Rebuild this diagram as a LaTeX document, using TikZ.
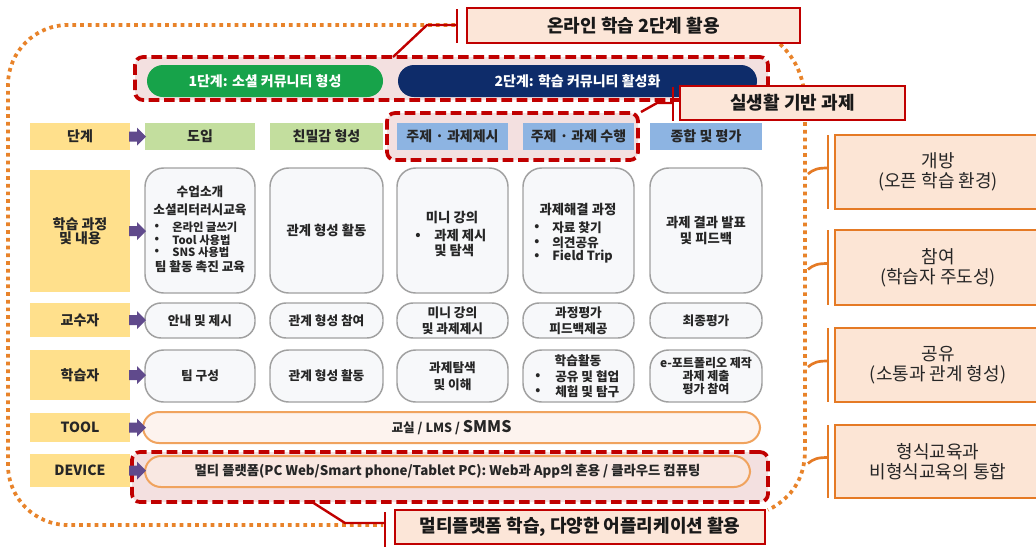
\documentclass[tikz,border=0pt]{standalone}
\usepackage{fontspec}
\setmainfont{Noto Sans CJK KR}
\usetikzlibrary{calc}
\definecolor{lblY}{HTML}{FFE08C}
\definecolor{hdrG}{HTML}{C3DE9E}
\definecolor{hdrB}{HTML}{8DB4E2}
\definecolor{pillG}{HTML}{17A34A}
\definecolor{pillN}{HTML}{0E2C6A}
\definecolor{pinkF}{HTML}{F3E0E0}
\definecolor{calF}{HTML}{FCE6D8}
\definecolor{redD}{HTML}{C00000}
\definecolor{orgD}{HTML}{E57A25}
\definecolor{orgF}{HTML}{FCE5D5}
\definecolor{dotO}{HTML}{E8832A}
\definecolor{toolD}{HTML}{F0A35E}
\definecolor{toolF}{HTML}{FDF3EE}
\definecolor{devF}{HTML}{F9E8E2}
\definecolor{cellF}{HTML}{F7F8FA}
\definecolor{cellD}{HTML}{A0A0A0}
\definecolor{purp}{HTML}{604A8C}
\definecolor{txtD}{HTML}{262626}
\newcommand\myfs[2]{\fontsize{#1}{#2}\selectfont}
\tikzset{cover/.code args={#1/#2/#3/#4}{%
  \pgfmathsetmacro\cvw{0.75*((#3)-(#1))}%
  \pgfmathsetmacro\cvh{0.75*((#4)-(#2))}%
  \pgfmathsetmacro\cvx{((#1)+(#3))/2}%
  \pgfmathsetmacro\cvy{((#2)+(#4))/2}%
  \edef\cvtmp{\noexpand\pgfkeysalso{minimum width=\cvw pt,minimum height=\cvh pt,at={(\cvx,\cvy)}}}%
  \cvtmp}}
\begin{document}
\begin{tikzpicture}[x=0.75pt,y=-0.75pt,
 box/.style={inner sep=0pt,outer sep=0pt,align=center,text=txtD},
 lbl/.style={box,fill=lblY,font=\bfseries\myfs{10.5}{10.5}},
 hdrg/.style={box,fill=hdrG,font=\bfseries\myfs{10.5}{12}},
 hdrb/.style={box,fill=hdrB,font=\bfseries\myfs{10.5}{12}},
 cell/.style={box,draw=cellD,line width=1.1pt,fill=cellF,rounded corners=14pt,font=\bfseries\myfs{10}{12}},
 pillc/.style={box,draw=cellD,line width=1.1pt,fill=cellF,rounded corners=12pt,font=\bfseries\myfs{9.5}{12}},
 txt/.style={inner sep=0pt,text=txtD,font=\bfseries\myfs{10}{12}},
 mtxt/.style={inner sep=0pt,text=txtD,font=\bfseries\myfs{9.5}{11}},
 stxt/.style={inner sep=0pt,text=txtD,font=\bfseries\myfs{9.5}{11}},
 btxt/.style={inner sep=0pt,text=txtD,font=\bfseries\myfs{8.5}{10}},
 dashbox/.style={inner sep=0pt,draw=redD,line width=2.8pt,dash pattern=on 8pt off 3.5pt,fill=pinkF,rounded corners=6pt},
 callout/.style={box,draw=redD,line width=2pt,fill=calF,font=\bfseries\myfs{13.5}{15},text=black!90},
 rbox/.style={box,draw=orgD,line width=2pt,fill=orgF,font=\myfs{13.5}{15},text=black!85},
 redline/.style={draw=redD,line width=1.8pt},
 dotline/.style={draw=dotO,line width=2.8pt,dash pattern=on 2.8pt off 3pt},
 bracket/.style={draw=orgD,line width=2pt},
 stage/.style={box,rounded corners=12pt,text=white,font=\bfseries\myfs{10.5}{12}},
 widebox/.style={box,draw=toolD,line width=1.5pt,rounded corners=12pt}
]
\useasboundingbox (0,0) rectangle (1036,547);
\clip (0,0) rectangle (1036,547);
\fill[white] (0,0) rectangle (1036,547);

% orange dotted outline
\coordinate (dA) at (455,25);
\coordinate (dB) at (383,525);
\draw[dotline, rounded corners=45pt] (dA) -- (8,25) -- (8,525) -- (dB);
\coordinate (dC) at (780,44);
\coordinate (dD) at (768,510);
\draw[dotline] (dC) .. controls (797,60) and (805,80) .. (805,105) -- (805,450) .. controls (805,478) and (792,498) .. (dD);

% right boxes
\node[rbox,cover=835/135/1041/209] (r1) {개방\\(오픈 학습 환경)};
\node[rbox,cover=835/230/1041/305] (r2) {참여\\(학습자 주도성)};
\node[rbox,cover=835/328/1041/402] (r3) {공유\\(소통과 관계 형성)};
\node[rbox,cover=835/425/1041/498] (r4) {형식교육과\\비형식교육의 통합};
\foreach \r in {r1,r2,r3,r4}{
  \draw[bracket] ($(\r.north west)+(-7,0)$) -- ($(\r.south west)+(-7,0)$);
  \draw[bracket] ($(\r.west)+(-7,-4)$) .. controls +(-10,0) and +(6,-5) .. ($(\r.west)+(-27,2)$);
}

% dashed highlight boxes
\node[dashbox,cover=135/57/768/100] (dsA) {};
\node[dashbox,cover=387/113/638/160] (dsB) {};
\node[dashbox,cover=132/452/768/502] (dsC) {};

% stage pills
\node[stage,fill=pillG,cover=147/65/383/97] (st1) {1단계: 소셜 커뮤니티 형성};
\node[stage,fill=pillN,cover=398/65/757/97] (st2) {2단계: 학습 커뮤니티 활성화};

% row labels
\node[lbl,cover=30/123/130/150] (L0) {단계};
\node[lbl,cover=30/170/130/292] (L1) {학습 과정\\및 내용};
\node[lbl,cover=30/303/130/337] (L2) {교수자};
\node[lbl,cover=30/350/130/400] (L3) {학습자};
\node[lbl,cover=30/413/130/442] (L4) {TOOL};
\node[lbl,cover=30/454/130/487] (L5) {DEVICE};

% header cells
\node[hdrg,cover=145/123/255/150] (h1) {도입};
\node[hdrg,cover=270/123/383/150] (h2) {친밀감 형성};
\node[hdrb,cover=397/123/508/150] (h3) {주제 · 과제제시};
\node[hdrb,cover=523/123/634/150] (h4) {주제 · 과제 수행};
\node[hdrb,cover=650/123/762/150] (h5) {종합 및 평가};

% learning process row
\node[cell,cover=145/168/255/293] (b1) {};
\node[cell,cover=270/168/383/293] (b2) {관계 형성 활동};
\node[cell,cover=397/168/508/293] (b3) {};
\node[cell,cover=523/168/634/293] (b4) {};
\node[cell,cover=650/168/762/293] (b5) {과제 결과 발표\\및 피드백};

\node[mtxt] (b1a) at (200,192) {수업소개};
\node[mtxt] (b1b) at (200,210) {소셜리터러시교육};
\node[btxt] (b1p1) at (157,227) {•};
\node[btxt,anchor=west] (b1c1) at (172,227) {온라인 글쓰기};
\node[btxt] (b1p2) at (157,240) {•};
\node[btxt,anchor=west] (b1c2) at (172,240) {Tool 사용법};
\node[btxt] (b1p3) at (157,252) {•};
\node[btxt,anchor=west] (b1c3) at (172,252) {SNS 사용법};
\node[mtxt] (b1d) at (200,267) {팀 활동 촉진 교육};

\node[txt] (b3a) at (452,218) {미니 강의};
\node[txt] (b3p) at (418,236) {•};
\node[txt,anchor=west] (b3b) at (434,236) {과제 제시};
\node[txt,anchor=west] (b3c) at (434,251) {및 탐색};

\node[txt] (b4a) at (578,210) {과제해결 과정};
\node[stxt] (b4p1) at (537,228) {•};
\node[stxt,anchor=west] (b4b) at (552,228) {자료 찾기};
\node[stxt] (b4p2) at (537,243) {•};
\node[stxt,anchor=west] (b4c) at (552,243) {의견공유};
\node[stxt] (b4p3) at (537,257) {•};
\node[stxt,anchor=west] (b4d) at (552,257) {Field Trip};

% instructor row
\node[pillc,cover=145/303/255/338] (p1) {안내 및 제시};
\node[pillc,cover=270/303/383/338] (p2) {관계 형성 참여};
\node[pillc,cover=397/303/508/338] (p3) {미니 강의\\및 과제제시};
\node[pillc,cover=523/303/634/338] (p4) {과정평가\\피드백제공};
\node[pillc,cover=650/303/762/338] (p5) {최종평가};

% learner row
\node[pillc,rounded corners=14pt,cover=145/350/255/402] (q1) {팀 구성};
\node[pillc,rounded corners=14pt,cover=270/350/383/402] (q2) {관계 형성 활동};
\node[pillc,rounded corners=14pt,cover=397/350/508/402,font=\bfseries\myfs{9.5}{12.8}] (q3) {과제탐색\\및 이해};
\node[pillc,rounded corners=14pt,cover=523/350/634/402] (q4) {};
\node[pillc,rounded corners=14pt,cover=650/350/762/402,font=\bfseries\myfs{9}{9.8}] (q5) {e-포트폴리오 제작\\과제 제출\\평가 참여};
\node[stxt] (q4a) at (578,361) {학습활동};
\node[stxt] (q4p1) at (538,377) {•};
\node[stxt,anchor=west] (q4b) at (555,377) {공유 및 협업};
\node[stxt] (q4p2) at (538,392) {•};
\node[stxt,anchor=west] (q4c) at (555,392) {체험 및 탐구};

% tool & device
\node[widebox,fill=toolF,cover=143/412/760/443,font=\bfseries] (tool) {{\myfs{9.5}{11}교실 / LMS / }{\myfs{12}{13}SMMS}};
\node[widebox,fill=devF,cover=145/456/750/487,font=\bfseries\myfs{10}{11}] (dev) {멀티 플랫폼(PC Web/Smart phone/Tablet PC): Web과 App의 혼용 / 클라우드 컴퓨팅};

% purple arrows
\foreach \n in {L0,L1,L2,L3,L4,L5}{
  \fill[purp] ($(\n.east)+(-1,-5)$) -- ++(8,0) -- ++(0,-4) -- ++(9,9) -- ++(-9,9) -- ++(0,-4) -- ++(-8,0) -- cycle;
}

% callouts
\node[callout,cover=467/8/800/43] (cA) {온라인 학습 2단계 활용};
\node[callout,cover=680/86/905/120] (cB) {실생활 기반 과제};
\node[callout,cover=395/510/765/544] (cC) {멀티플랫폼 학습, 다양한 어플리케이션 활용};

% callout ticks and connectors
\coordinate (tA1) at (457,9);  \coordinate (tA2) at (457,43);
\coordinate (kA0) at (393,57); \coordinate (kA1) at (427,25); \coordinate (kA2) at (457,25);
\draw[redline,line width=2.2pt] (tA1) -- (tA2);
\draw[redline] (kA0) -- (kA1) -- (kA2);

\coordinate (tB1) at (673,87);  \coordinate (tB2) at (673,121);
\coordinate (kB0) at (641,112); \coordinate (kB1) at (657,103); \coordinate (kB2) at (673,103);
\draw[redline,line width=2.2pt] (tB1) -- (tB2);
\draw[redline] (kB0) -- (kB1) -- (kB2);

\coordinate (tC1) at (385,512);  \coordinate (tC2) at (385,547);
\coordinate (kC0) at (312,502); \coordinate (kC1) at (345,523); \coordinate (kC2) at (385,523);
\draw[redline,line width=2.2pt] (tC1) -- (tC2);
\draw[redline] (kC0) -- (kC1) -- (kC2);
\end{tikzpicture}
\end{document}
